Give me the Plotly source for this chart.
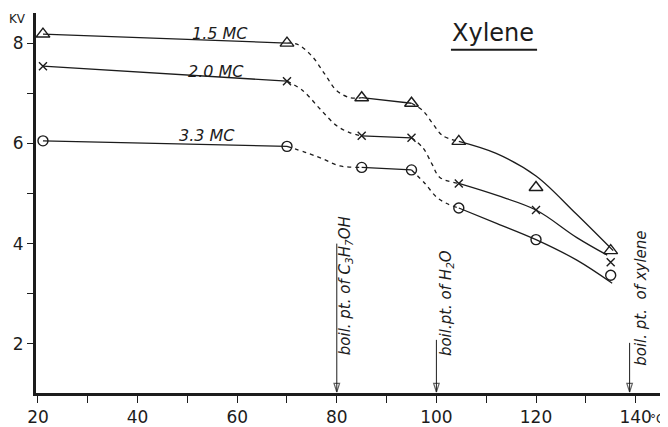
import plotly.graph_objects as go

# ---- measured points (temperature in deg C, breakdown voltage in KV) ----
TEMP = [21, 70, 85, 95, 104.5, 120, 135]
KV_15MC = [8.18, 8.00, 6.91, 6.80, 6.04, 5.12, 3.86]
KV_20MC = [7.54, 7.24, 6.15, 6.11, 5.20, 4.67, 3.63]
KV_33MC = [6.05, 5.94, 5.52, 5.47, 4.71, 4.08, 3.37]

# ---- drawn curves (solid = fitted, dashed = transitions) ----
S1_X = [21, 70]
S1_15 = [8.18, 8.00]
S1_20 = [7.54, 7.24]
S1_33 = [6.05, 5.94]

D1_X_15 = [70, 72, 75, 77.6, 80, 82.7, 85]
D1_Y_15 = [8.00, 7.98, 7.74, 7.38, 7.05, 6.91, 6.91]
D1_X_20 = [70, 73.2, 76.6, 80, 82.7, 85]
D1_Y_20 = [7.24, 7.05, 6.69, 6.35, 6.21, 6.15]
D1_X_33 = [70, 74, 77.2, 80.6, 85]
D1_Y_33 = [5.94, 5.81, 5.69, 5.55, 5.52]

S2_X = [85, 95]
S2_15 = [6.91, 6.80]
S2_20 = [6.15, 6.11]
S2_33 = [5.52, 5.47]

D2_X_15 = [95, 97.3, 99.3, 101.3, 104.5]
D2_Y_15 = [6.80, 6.65, 6.39, 6.15, 6.04]
D2_X_20 = [95, 97.3, 99.1, 100.7, 104.5]
D2_Y_20 = [6.11, 5.91, 5.59, 5.32, 5.20]
D2_X_33 = [95, 97.7, 100.1, 102.1, 104.5]
D2_Y_33 = [5.47, 5.20, 4.92, 4.80, 4.71]

S3_X_15 = [104.5, 112, 120, 128, 135.5]
S3_Y_15 = [6.04, 5.80, 5.35, 4.60, 3.86]
S3_X_20 = [104.5, 112.2, 120, 128.2, 134.3]
S3_Y_20 = [5.20, 4.96, 4.67, 4.12, 3.77]
S3_X_33 = [104.5, 112.2, 120, 128.2, 135.3]
S3_Y_33 = [4.71, 4.40, 4.08, 3.67, 3.21]

SERIES_NAMES = ["1.5 MC", "2.0 MC", "3.3 MC"]

# boiling points marked on the temperature axis
BOIL_X = [80, 100, 138.8]
BOIL_LABELS = ["boil. pt. of C<sub>3</sub>H<sub>7</sub>OH",
               "boil.pt. of H<sub>2</sub>O",
               "boil. pt.  of xylene"]

X_TICKS = [20, 40, 60, 80, 100, 120, 140]
X_TICK_TEXT = ["20", "40", "60", "80", "100", "120", "140"]
Y_TICKS = [2, 4, 6, 8]
Y_TICK_TEXT = ["2", "4", "6", "8"]

INK = "#1c1c1c"
FONT = "DejaVu Sans"
Y_MIN = 1.02

fig = go.Figure()


def add_line(x, y, dashed):
    fig.add_trace(go.Scatter(
        x=x, y=y, mode="lines",
        line=dict(color=INK, width=1.3, shape="spline", smoothing=1.0,
                  dash="4px,4px" if dashed else "solid"),
        hoverinfo="skip", showlegend=False))


curves = [
    (S1_15, D1_X_15, D1_Y_15, S2_15, D2_X_15, D2_Y_15, S3_X_15, S3_Y_15),
    (S1_20, D1_X_20, D1_Y_20, S2_20, D2_X_20, D2_Y_20, S3_X_20, S3_Y_20),
    (S1_33, D1_X_33, D1_Y_33, S2_33, D2_X_33, D2_Y_33, S3_X_33, S3_Y_33),
]
for s1, d1x, d1y, s2, d2x, d2y, s3x, s3y in curves:
    add_line(S1_X, s1, False)
    add_line(d1x, d1y, True)
    add_line(S2_X, s2, False)
    add_line(d2x, d2y, True)
    add_line(s3x, s3y, False)

marker_styles = [
    dict(symbol="triangle-up-open", size=12),
    dict(symbol="x-thin-open", size=8),
    dict(symbol="circle-open", size=10),
]
for name, vals, ms in zip(SERIES_NAMES, [KV_15MC, KV_20MC, KV_33MC], marker_styles):
    fig.add_trace(go.Scatter(
        x=TEMP, y=vals, mode="markers", name=name,
        marker=dict(color=INK, line=dict(color=INK, width=1.4), **ms),
        showlegend=False))

# series labels written on the curves
label_pos = [(56.5, 8.2), (55.8, 7.44), (53.9, 6.15)]
for name, (lx, ly) in zip(SERIES_NAMES, label_pos):
    fig.add_annotation(x=lx, y=ly, text="<i>" + name + "</i>", showarrow=False,
                       xanchor="center", yanchor="middle",
                       font=dict(family=FONT, size=16, color=INK))

# boiling point arrows and labels
arrow_tops = [4.0, 2.08, 2.02]
label_x_off = [1.65, 1.9, 2.4]
label_y = [3.15, 2.81, 2.91]
for bx, top, lab, dx, ly in zip(BOIL_X, arrow_tops, BOIL_LABELS, label_x_off, label_y):
    fig.add_trace(go.Scatter(
        x=[bx, bx], y=[top, Y_MIN + 0.02], mode="lines+markers",
        line=dict(color=INK, width=1),
        marker=dict(symbol="arrow-open", size=[0, 9], angleref="previous",
                    color=INK, line=dict(color=INK, width=1.2)),
        hoverinfo="skip", showlegend=False))
    fig.add_annotation(x=bx + dx, y=ly, text="<i>" + lab + "</i>", textangle=-90,
                       xanchor="center", yanchor="middle",
                       showarrow=False, font=dict(family=FONT, size=15, color=INK))

# title, units
fig.add_annotation(xref="paper", yref="paper", x=0.732, y=0.947, text="Xylene",
                   xanchor="center", yanchor="middle",
                   showarrow=False, font=dict(family=FONT, size=24, color=INK))
fig.add_shape(type="line", xref="paper", yref="paper", x0=0.665, x1=0.803,
              y0=0.903, y1=0.903, line=dict(color=INK, width=2))
fig.add_annotation(xref="paper", yref="paper", x=-0.029, y=0.984, text="KV",
                   xanchor="center", yanchor="middle",
                   showarrow=False, font=dict(family=FONT, size=12, color=INK))
fig.add_annotation(xref="paper", yref="paper", x=0.981, y=-0.068, text="°C",
                   xanchor="left", yanchor="middle", showarrow=False,
                   font=dict(family=FONT, size=12, color=INK))

# page body has an 8px default margin, so the figure is 8px smaller
fig.update_layout(
    width=660, height=419,
    margin=dict(l=28, r=8, t=5, b=34, autoexpand=False),
    paper_bgcolor="white", plot_bgcolor="white",
    showlegend=False,
    font=dict(family=FONT, size=17, color=INK),
)
fig.update_xaxes(range=[19.6, 144.9], showgrid=False, zeroline=False,
                 automargin=False,
                 showline=True, linecolor=INK, linewidth=3,
                 tickmode="array", tickvals=X_TICKS, ticktext=X_TICK_TEXT,
                 ticks="outside", ticklen=7, tickwidth=1.2, tickcolor=INK,
                 minor=dict(ticks="outside", dtick=10, tick0=20, ticklen=7,
                            tickwidth=1.2, tickcolor=INK, showgrid=False),
                 tickfont=dict(family=FONT, size=17, color=INK))
fig.update_yaxes(range=[Y_MIN, 8.6], showgrid=False, zeroline=False,
                 automargin=False,
                 showline=True, linecolor=INK, linewidth=3,
                 tickmode="array", tickvals=Y_TICKS, ticktext=Y_TICK_TEXT,
                 ticks="outside", ticklen=6, tickwidth=1.2, tickcolor=INK,
                 minor=dict(ticks="outside", dtick=1, tick0=0, ticklen=6,
                            tickwidth=1.2, tickcolor=INK, showgrid=False),
                 tickfont=dict(family=FONT, size=17, color=INK))

fig.write_html("out.html")
